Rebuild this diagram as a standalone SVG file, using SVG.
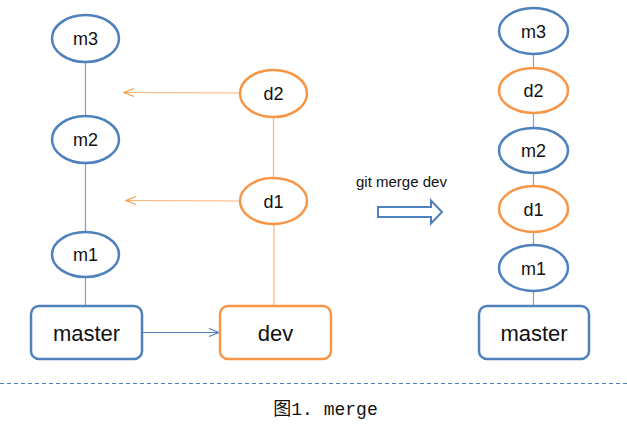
<svg xmlns="http://www.w3.org/2000/svg" width="627" height="439" viewBox="0 0 627 439">
<style>
.b{fill:#fff;stroke:#4F81BD;stroke-width:2.5}
.o{fill:#fff;stroke:#F79646;stroke-width:2.5}
.t{font-family:"Liberation Sans",Arial,sans-serif;font-size:18px;fill:#111;text-anchor:middle}
.tb{font-family:"Liberation Sans",Arial,sans-serif;font-size:22px;fill:#111;text-anchor:middle}
.lb{stroke:#7FA3D1;stroke-width:1.2;fill:none}
.lo{stroke:#F9B27A;stroke-width:1.2;fill:none}
</style>
<defs>
<marker id="ao" markerWidth="12" markerHeight="10" refX="11" refY="5" orient="auto" markerUnits="userSpaceOnUse">
<path d="M1,1 L11,5 L1,9" fill="none" stroke="#F79646" stroke-width="1.2"/>
</marker>
<marker id="ab" markerWidth="12" markerHeight="10" refX="11" refY="5" orient="auto" markerUnits="userSpaceOnUse">
<path d="M1,1 L11,5 L1,9" fill="none" stroke="#4F81BD" stroke-width="1.2"/>
</marker>
</defs>
<g id="connectors">
<line class="lb" x1="85.5" y1="62" x2="85.5" y2="116"/>
<line class="lb" x1="85.5" y1="163" x2="85.5" y2="232"/>
<line class="lb" x1="85.5" y1="277" x2="85.5" y2="306"/>
<line class="lo" x1="273.5" y1="117" x2="273.5" y2="178"/>
<line class="lo" x1="274" y1="224" x2="274" y2="306"/>
<line class="lo" x1="240" y1="93" x2="124" y2="92.5" marker-end="url(#ao)"/>
<line class="lo" x1="240" y1="201" x2="126" y2="200.5" marker-end="url(#ao)"/>
<line x1="142" y1="332.5" x2="219" y2="332.5" stroke="#4F81BD" stroke-width="1.2" marker-end="url(#ab)"/>
<line class="lb" x1="533.5" y1="54" x2="533.5" y2="68"/>
<line class="lb" x1="533.5" y1="113" x2="533.5" y2="128"/>
<line class="lb" x1="533.5" y1="173" x2="533.5" y2="186"/>
<line class="lb" x1="533.5" y1="232" x2="533.5" y2="245"/>
<line class="lb" x1="533.5" y1="291" x2="533.5" y2="306"/>
</g>
<g id="m3"><ellipse class="b" cx="85.5" cy="38.5" rx="33.5" ry="23.5"/><text class="t" x="85.5" y="45">m3</text></g>
<g id="m2"><ellipse class="b" cx="85.5" cy="139.5" rx="33.5" ry="23.5"/><text class="t" x="85.5" y="146">m2</text></g>
<g id="m1"><ellipse class="b" cx="85.5" cy="254.5" rx="33.5" ry="22.5"/><text class="t" x="85.5" y="261">m1</text></g>
<g id="d2"><ellipse class="o" cx="273.5" cy="93.5" rx="33.5" ry="23.5"/><text class="t" x="273.5" y="100">d2</text></g>
<g id="d1"><ellipse class="o" cx="273.5" cy="201" rx="33.5" ry="23"/><text class="t" x="273.5" y="207.5">d1</text></g>
<g id="master"><rect class="b" x="31" y="306" width="111" height="53" rx="8"/><text class="tb" x="86.5" y="341">master</text></g>
<g id="dev"><rect class="o" x="220" y="306" width="111" height="53" rx="8"/><text class="tb" x="275.5" y="341">dev</text></g>
<g id="label"><text font-family="Liberation Sans,Arial,sans-serif" font-size="15" fill="#111" x="356" y="187">git merge dev</text></g>
<g id="bigarrow"><polygon points="378,207 431,207 431,200.5 442,212 431,223.5 431,217 378,217" fill="#fff" stroke="#4F81BD" stroke-width="2"/></g>
<g id="r-m3"><ellipse class="b" cx="533.5" cy="31" rx="34.5" ry="23"/><text class="t" x="533.5" y="37.5">m3</text></g>
<g id="r-d2"><ellipse class="o" cx="533.5" cy="90.5" rx="34.5" ry="22.5"/><text class="t" x="533.5" y="97">d2</text></g>
<g id="r-m2"><ellipse class="b" cx="533.5" cy="150.5" rx="34.5" ry="22.5"/><text class="t" x="533.5" y="157">m2</text></g>
<g id="r-d1"><ellipse class="o" cx="533.5" cy="209" rx="34.5" ry="23"/><text class="t" x="533.5" y="215.5">d1</text></g>
<g id="r-m1"><ellipse class="b" cx="533.5" cy="268" rx="34.5" ry="23"/><text class="t" x="533.5" y="274.5">m1</text></g>
<g id="r-master"><rect class="b" x="479" y="306" width="110" height="53" rx="8"/><text class="tb" x="534" y="341">master</text></g>
<line x1="0" y1="383.5" x2="627" y2="383.5" stroke="#4F81BD" stroke-width="1" stroke-dasharray="4 3"/>
<text x="325.5" y="415" font-family="Liberation Mono,Noto Sans CJK SC,monospace" font-size="18" fill="#111" text-anchor="middle">图1. merge</text>
</svg>
